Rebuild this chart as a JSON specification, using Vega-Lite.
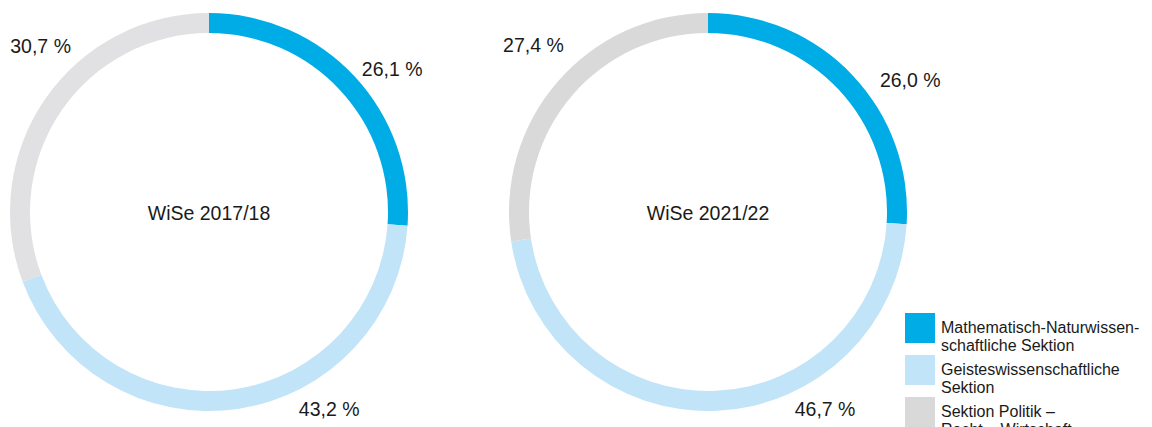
{
  "$schema": "https://vega.github.io/schema/vega-lite/v6.json",
  "padding": 0,
  "background": "white",
  "datasets": {
    "d": [
      {"Semester": "WiSe 2017/18", "Sektion": "Mathematisch-Naturwissenschaftliche Sektion", "Anteil": 26.1, "Ordnung": 1, "Label": "26,1 %"},
      {"Semester": "WiSe 2017/18", "Sektion": "Geisteswissenschaftliche Sektion", "Anteil": 43.2, "Ordnung": 2, "Label": "43,2 %"},
      {"Semester": "WiSe 2017/18", "Sektion": "Sektion Politik – Recht – Wirtschaft", "Anteil": 30.7, "Ordnung": 3, "Label": "30,7 %"},
      {"Semester": "WiSe 2021/22", "Sektion": "Mathematisch-Naturwissenschaftliche Sektion", "Anteil": 26.0, "Ordnung": 1, "Label": "26,0 %"},
      {"Semester": "WiSe 2021/22", "Sektion": "Geisteswissenschaftliche Sektion", "Anteil": 46.7, "Ordnung": 2, "Label": "46,7 %"},
      {"Semester": "WiSe 2021/22", "Sektion": "Sektion Politik – Recht – Wirtschaft", "Anteil": 27.4, "Ordnung": 3, "Label": "27,4 %"}
    ]
  },
  "spacing": 76,
  "resolve": {"scale": {"color": "independent", "theta": "independent"}},
  "hconcat": [
    {
      "width": 418,
      "height": 424,
      "data": {"name": "d"},
      "transform": [{"filter": "datum.Semester == 'WiSe 2017/18'"}],
      "layer": [
        {
          "mark": {"type": "arc", "innerRadius": 179, "outerRadius": 199},
          "encoding": {
            "theta": {"field": "Anteil", "type": "quantitative", "stack": true},
            "order": {"field": "Ordnung", "type": "ordinal"},
            "color": {
              "field": "Sektion", "type": "nominal",
              "scale": {
                "domain": ["Mathematisch-Naturwissenschaftliche Sektion", "Geisteswissenschaftliche Sektion", "Sektion Politik – Recht – Wirtschaft"],
                "range": ["#00ACE6", "#C2E4F8", "#E1E1E3"]
              },
              "legend": null
            }
          }
        },
        {
          "mark": {
            "type": "text", "radius": 232, "fontSize": 19.5, "font": "Liberation Sans", "color": "#1a1a1a",
            "thetaOffset": {"expr": "datum.Ordnung == 1 ? 0.09 : datum.Ordnung == 2 ? -0.40 : 0.17"},
            "radiusOffset": {"expr": "datum.Ordnung == 3 ? 4 : 0"}
          },
          "encoding": {
            "theta": {"field": "Anteil", "type": "quantitative", "stack": true},
            "order": {"field": "Ordnung", "type": "ordinal"},
            "detail": {"field": "Sektion", "type": "nominal"},
            "text": {"field": "Label", "type": "nominal"}
          }
        },
        {
          "transform": [{"aggregate": [{"op": "count", "as": "n"}], "groupby": ["Semester"]}],
          "mark": {"type": "text", "fontSize": 19.5, "font": "Liberation Sans", "color": "#1a1a1a", "dy": 2},
          "encoding": {"text": {"field": "Semester", "type": "nominal"}}
        }
      ]
    },
    {
      "width": 418,
      "height": 424,
      "data": {"name": "d"},
      "transform": [{"filter": "datum.Semester == 'WiSe 2021/22'"}],
      "layer": [
        {
          "mark": {"type": "arc", "innerRadius": 179, "outerRadius": 199},
          "encoding": {
            "theta": {"field": "Anteil", "type": "quantitative", "stack": true},
            "order": {"field": "Ordnung", "type": "ordinal"},
            "color": {
              "field": "Sektion", "type": "nominal",
              "scale": {
                "domain": ["Mathematisch-Naturwissenschaftliche Sektion", "Geisteswissenschaftliche Sektion", "Sektion Politik – Recht – Wirtschaft"],
                "range": ["#00ACE6", "#C2E4F8", "#D9D9D9"]
              },
              "legend": {
                "orient": "none", "legendX": 406, "legendY": 313, "title": null,
                "symbolType": "square", "symbolSize": 900, "symbolStrokeWidth": 0, "symbolOpacity": 1,
                "labelFont": "Liberation Sans", "labelFontSize": 16, "labelColor": "#1a1a1a",
                "labelLimit": 0, "labelOffset": 6, "rowPadding": 1, "padding": 0,
                "labelExpr": "datum.label == 'Mathematisch-Naturwissenschaftliche Sektion' ? ['Mathematisch-Naturwissen-', 'schaftliche Sektion'] : datum.label == 'Geisteswissenschaftliche Sektion' ? ['Geisteswissenschaftliche', 'Sektion'] : ['Sektion Politik –', 'Recht – Wirtschaft']"
              }
            }
          }
        },
        {
          "mark": {
            "type": "text", "radius": 232, "fontSize": 19.5, "font": "Liberation Sans", "color": "#1a1a1a",
            "thetaOffset": {"expr": "datum.Ordnung == 1 ? 0.18 : datum.Ordnung == 2 ? -0.49 : 0.05"},
            "radiusOffset": {"expr": "datum.Ordnung == 2 ? -2 : 9"}
          },
          "encoding": {
            "theta": {"field": "Anteil", "type": "quantitative", "stack": true},
            "order": {"field": "Ordnung", "type": "ordinal"},
            "detail": {"field": "Sektion", "type": "nominal"},
            "text": {"field": "Label", "type": "nominal"}
          }
        },
        {
          "transform": [{"aggregate": [{"op": "count", "as": "n"}], "groupby": ["Semester"]}],
          "mark": {"type": "text", "fontSize": 19.5, "font": "Liberation Sans", "color": "#1a1a1a", "dy": 2},
          "encoding": {"text": {"field": "Semester", "type": "nominal"}}
        }
      ]
    }
  ],
  "config": {
    "view": {"stroke": null}
  }
}
